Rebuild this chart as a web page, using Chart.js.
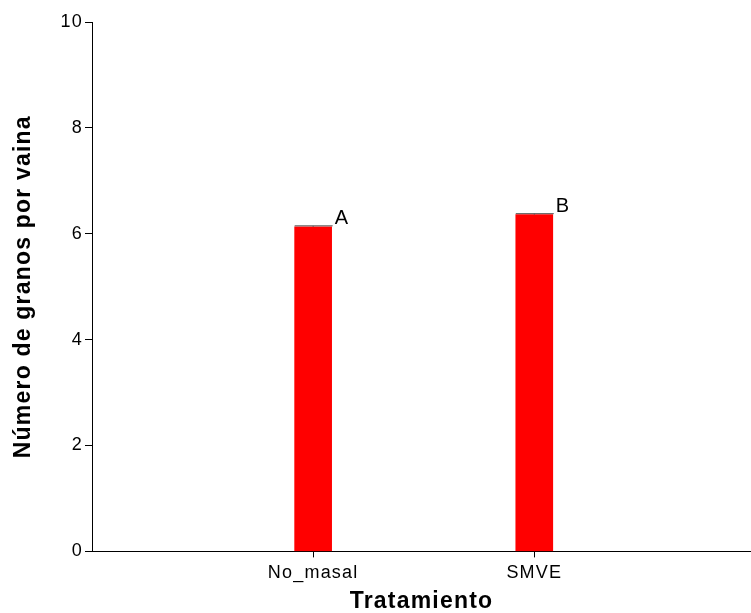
<!DOCTYPE html>
<html>
<head>
<meta charset="utf-8">
<script src="https://cdn.jsdelivr.net/npm/chart.js@4/dist/chart.umd.min.js"></script>
<style>
  html, body { margin: 0; padding: 0; background: #fff; }
  #wrap { width: 751px; height: 613px; }
</style>
</head>
<body>
<div id="wrap"><canvas id="chart" width="751" height="613"></canvas></div>
<script>
const categories = ['No_masal', 'SMVE'];
const means = [6.13, 6.36];
const errors = [0.02, 0.02];
const letters = ['A', 'B'];
const yTicks = [0, 2, 4, 6, 8, 10];

const FONT = '"Liberation Sans", Arial, sans-serif';

// espaciado de letras como en el original
const spacing = {
  id: 'spacing',
  beforeLayout(chart) { chart.ctx.letterSpacing = '1.2px'; },
  beforeDraw(chart) { chart.ctx.letterSpacing = '1.2px'; }
};

// barra de error y letras encima
const extras = {
  id: 'extras',
  afterDatasetsDraw(chart) {
    const ctx = chart.ctx;
    const xs = chart.scales.x, ys = chart.scales.y;
    const meta = chart.getDatasetMeta(0);
    ctx.save();
    means.forEach((m, i) => {
      const bar = meta.data[i];
      const half = bar.width / 2;
      const cx = xs.getPixelForValue(i + 1);
      const yTop = ys.getPixelForValue(m + errors[i]);
      const yMean = ys.getPixelForValue(m);
      ctx.strokeStyle = '#555';
      ctx.lineWidth = 1;
      ctx.beginPath();
      ctx.moveTo(cx - half, yTop);
      ctx.lineTo(cx + half + 1, yTop);
      ctx.moveTo(cx, yTop);
      ctx.lineTo(cx, yMean);
      ctx.stroke();
      ctx.fillStyle = '#000';
      ctx.font = '20px ' + FONT;
      ctx.textAlign = 'left';
      ctx.textBaseline = 'alphabetic';
      ctx.fillText(letters[i], cx + half + 3, yTop - 2);
    });
    ctx.restore();
  }
};

new Chart(document.getElementById('chart'), {
  type: 'bar',
  data: {
    datasets: [{
      data: means.map((v, i) => ({ x: i + 1, y: v })),
      backgroundColor: '#ff0000',
      borderWidth: 0,
      barThickness: 37
    }]
  },
  plugins: [spacing, extras],
  options: {
    responsive: false,
    animation: false,
    layout: { padding: { top: 22, right: 0, bottom: 0, left: 0 } },
    plugins: { legend: { display: false }, tooltip: { enabled: false } },
    scales: {
      x: {
        type: 'linear',
        min: 0,
        max: 2.98,
        offset: false,
        afterBuildTicks: s => { s.ticks = categories.map((c, i) => ({ value: i + 1 })); },
        grid: { offset: false, drawOnChartArea: false, drawTicks: true, tickLength: 6, color: '#000' },
        border: { color: '#000', width: 1 },
        ticks: {
          color: '#000',
          font: { family: FONT, size: 18 },
          padding: 5,
          maxRotation: 0,
          callback: v => categories[v - 1]
        },
        title: {
          display: true,
          text: 'Tratamiento',
          color: '#000',
          font: { family: FONT, size: 23, weight: 'bold', lineHeight: 1 },
          padding: { top: 1, bottom: 0 }
        }
      },
      y: {
        min: 0,
        max: 10,
        afterBuildTicks: s => { s.ticks = yTicks.map(v => ({ value: v })); },
        afterFit: s => { s.width = 92; },
        grid: { drawOnChartArea: false, drawTicks: true, tickLength: 7, color: '#000' },
        border: { color: '#000', width: 1 },
        ticks: {
          color: '#000',
          font: { family: FONT, size: 18 },
          padding: 2
        },
        title: {
          display: true,
          text: 'Número de granos por vaina',
          color: '#000',
          font: { family: FONT, size: 23, weight: 'bold' },
          padding: { top: 10, bottom: 0 }
        }
      }
    }
  }
});
</script>
</body>
</html>
